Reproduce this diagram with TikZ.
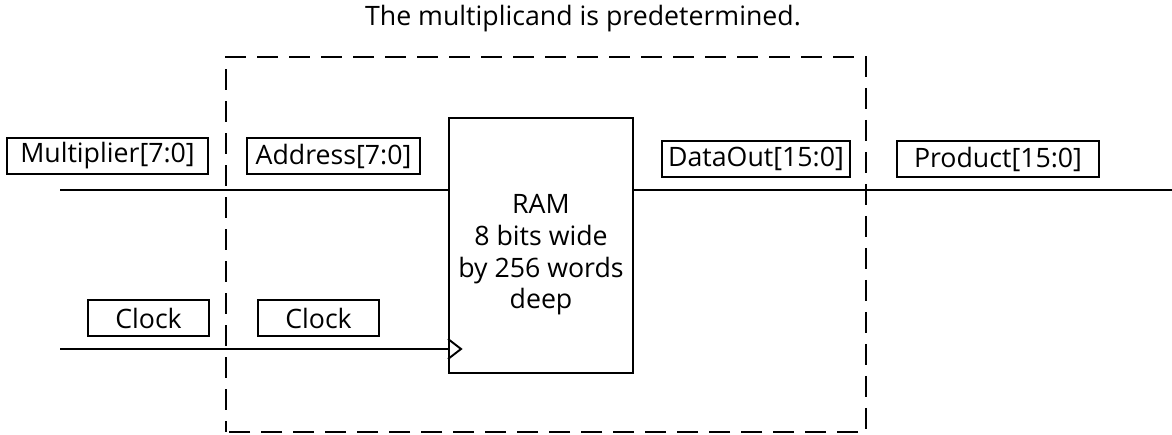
\documentclass[tikz,border=0pt]{standalone}
\usepackage{fontspec}
\setmainfont{Open Sans}
\usepackage{tikz}
\usetikzlibrary{calc}

\begin{document}
\begin{tikzpicture}[
	line width=1.1pt,
	every node/.style={font=\fontsize{15.2}{18.2}\selectfont},
	sigbox/.style={draw, inner sep=0pt, minimum height=0.72cm}
	]
				\useasboundingbox (0,0) rectangle (23.44,8.70);
				
				% Title
				\node (title) at (11.66,8.32) {The multiplicand is predetermined.};
				
				% Dashed boundary
				\draw[dash pattern=on 0.42cm off 0.22cm, dash phase=0.2cm] (4.52,0.06) rectangle (17.32,7.56);
				
				% RAM block
				\node[draw, minimum width=3.68cm, minimum height=5.10cm, inner sep=0pt] (ram) at (10.82,3.79) {};
				\node[align=center, anchor=base] (ramtxt) at (10.82,2.52) {RAM\\8 bits wide\\by 256 words\\deep};
				
				% Signal labels
				\node[sigbox, minimum width=4.02cm] (mul) at (2.15,5.58) {Multiplier[7:0]};
				\node[sigbox, minimum width=3.46cm] (addr) at (6.67,5.58) {Address[7:0]};
				\node[sigbox, minimum width=2.42cm] (clkout) at (2.97,2.34) {Clock};
				\node[sigbox, minimum width=2.42cm] (clkin) at (6.37,2.34) {Clock};
				\node[sigbox, minimum width=3.76cm] (dout) at (15.12,5.52) {DataOut[15:0]};
				\node[sigbox, minimum width=4.04cm] (prod) at (19.96,5.52) {Product[15:0]};
				
				% Wires
				\coordinate (mulend) at (1.2,4.90);
				\coordinate (prodend) at (23.44,4.90);
				\coordinate (clkend) at (1.2,1.72);
				\draw (mulend) -- (mulend -| ram.west);
				\draw (ram.east |- prodend) -- (prodend);
				\draw (clkend) -- (clkend -| ram.west);
				
				% Clock input mark
				\draw ($(clkend -| ram.west)+(0,0.2)$) -- ++(0.26,-0.2) -- ++(-0.26,-0.2);
\end{tikzpicture}
\end{document}
